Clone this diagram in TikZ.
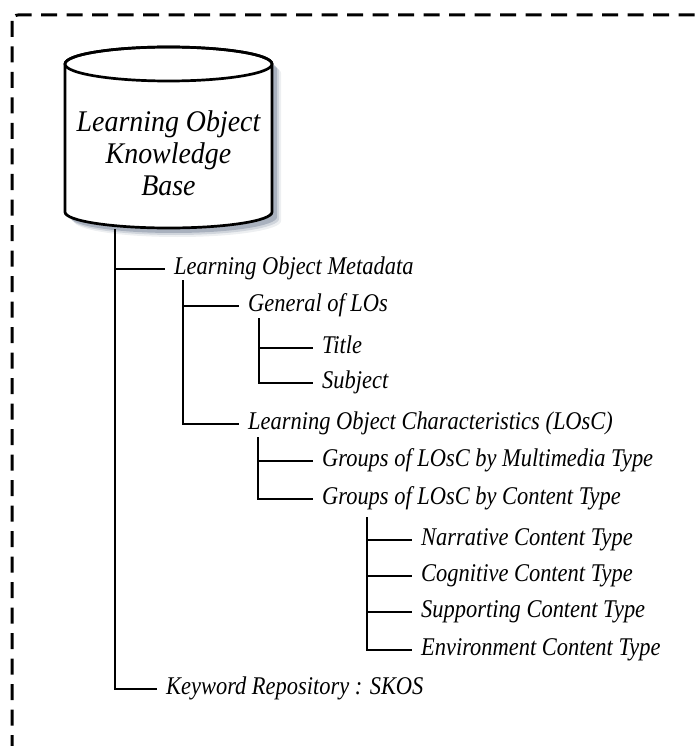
\documentclass[tikz,border=0pt]{standalone}
\usepackage{graphicx}
\usepackage{fontspec}
\setmainfont{Liberation Serif}
\newcommand{\cylpath}{(65,-64) -- (65,-212) arc[start angle=180,end angle=360,x radius=103.5,y radius=16] -- (272,-64) arc[start angle=0,end angle=180,x radius=103.5,y radius=17] -- cycle}
% narrow the type a little, as in the original artwork
\newcommand{\sq}[1]{\scalebox{0.88}[1]{#1}}
\newcommand{\sqk}[1]{\scalebox{0.93}[1]{#1}}
\begin{document}
\begin{tikzpicture}[x=1pt,y=1pt,
  item/.style={anchor=west, inner xsep=9pt, inner ysep=0pt, text height=16pt, text depth=6pt,
    font=\fontsize{25.5}{30}\selectfont\itshape},
  link/.style={line width=1.3pt},
  frame/.style={line width=3pt, dash pattern=on 16pt off 9.5pt, rounded corners=6pt},
  dbline/.style={line width=2.7pt},
]
\definecolor{shadowc}{HTML}{4E5F7A}
\useasboundingbox (0,0) rectangle (700,-746);

% dashed outer frame, open to the right and bottom
\begin{scope}
  \clip (0,0) rectangle (700,-746);
  \draw[frame] (12,-15) rectangle (730,-780);
\end{scope}

% knowledge base cylinder with soft shadow
\foreach \d/\o in {9/0.10, 7/0.18, 5/0.30}{
  \fill[shadowc, opacity=\o, shift={(\d,-\d)}] \cylpath;
}
\filldraw[fill=white, dbline] \cylpath;
\draw[dbline] (168.5,-64) ellipse[x radius=103.5, y radius=17];
\node[font=\fontsize{30}{32}\selectfont\itshape, align=center] (kb) at (168.5,-153)
  {\sqk{Learning Object}\\\sqk{Knowledge}\\\sqk{Base}};
\coordinate (kbfoot) at (115,-229);

% tree entries
\node[item] (lom)   at (165,-269) {\sq{Learning Object Metadata}};
\node[item] (gen)   at (239,-306) {\sq{General of LOs}};
\node[item] (title) at (313,-348) {\sq{Title}};
\node[item] (subj)  at (313,-383) {\sq{Subject}};
\node[item] (losc)  at (239,-424) {\sq{Learning Object Characteristics (LOsC)}};
\node[item] (mm)    at (313,-461) {\sq{Groups of LOsC by Multimedia Type}};
\node[item] (ct)    at (313,-499) {\sq{Groups of LOsC by Content Type}};
\node[item] (nar)   at (412,-540) {\sq{Narrative Content Type}};
\node[item] (cog)   at (412,-576) {\sq{Cognitive Content Type}};
\node[item] (sup)   at (412,-612) {\sq{Supporting Content Type}};
\node[item] (env)   at (412,-650) {\sq{Environment Content Type}};
\node[item] (kw)    at (157,-689) {\sq{Keyword Repository : SKOS}};

% connectors
\draw[link] (kbfoot) |- (lom.west);
\draw[link] (kbfoot) |- (kw.west);

\coordinate (lomfoot) at ([xshift=18pt]lom.south west);
\draw[link] (lomfoot) |- (gen.west);
\draw[link] (lomfoot) |- (losc.west);

\coordinate (genfoot) at ([xshift=20pt,yshift=-1pt]gen.south west);
\draw[link] (genfoot) |- (title.west);
\draw[link] (genfoot) |- (subj.west);

\coordinate (loscfoot) at ([xshift=19pt,yshift=-2pt]losc.south west);
\draw[link] (loscfoot) |- (mm.west);
\draw[link] (loscfoot) |- (ct.west);

\coordinate (ctfoot) at ([xshift=54pt,yshift=-7pt]ct.south west);
\draw[link] (ctfoot) |- (nar.west);
\draw[link] (ctfoot) |- (cog.west);
\draw[link] (ctfoot) |- (sup.west);
\draw[link] (ctfoot) |- (env.west);
\end{tikzpicture}
\end{document}
